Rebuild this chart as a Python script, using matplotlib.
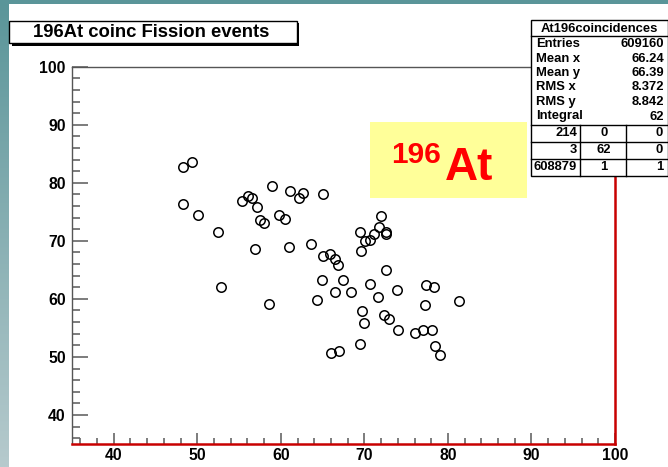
import numpy as np
import matplotlib
matplotlib.use("Agg")
import matplotlib.pyplot as plt
from matplotlib.patches import Rectangle
from matplotlib.lines import Line2D
from matplotlib.ticker import MultipleLocator
from matplotlib.colors import LinearSegmentedColormap

plt.rcParams['font.family'] = ['Liberation Sans', 'DejaVu Sans']

# ---- data ----
x_vals = [48.3, 49.4, 48.3, 50.1, 52.5, 52.8, 55.3, 56.1, 56.6, 57.2, 57.5, 58.0,
          56.9, 58.6, 58.9, 59.8, 60.5, 61.0, 61.1, 62.6, 62.2, 63.6, 65.0, 65.1,
          65.9, 66.5, 66.9, 64.9, 67.4, 66.5, 68.4, 64.3, 66.0, 67.0, 69.5, 69.7,
          69.9, 70.7, 71.6, 69.5, 70.1, 70.7, 71.2, 71.8, 72.0, 72.6, 72.6, 69.6,
          72.6, 73.9, 72.3, 73.0, 74.0, 76.1, 77.0, 78.1, 77.4, 78.3, 77.3, 81.3,
          78.5, 79.1]
y_vals = [82.7, 83.5, 76.3, 74.4, 71.5, 62.1, 76.8, 77.7, 77.3, 75.9, 73.6, 73.0,
          68.6, 59.1, 79.4, 74.4, 73.8, 69.0, 78.5, 78.3, 77.3, 69.5, 78.0, 67.4,
          67.8, 66.9, 65.8, 63.2, 63.2, 61.2, 61.2, 59.8, 50.6, 51.0, 52.3, 57.9,
          55.8, 62.5, 60.3, 71.6, 69.9, 70.1, 71.2, 72.4, 74.2, 71.5, 71.1, 68.3,
          65.0, 61.5, 57.3, 56.5, 54.6, 54.2, 54.7, 54.6, 62.4, 62.1, 58.9, 59.6,
          51.8, 50.3]
x_ticks = [40, 50, 60, 70, 80, 90, 100]
y_ticks = [40, 50, 60, 70, 80, 90, 100]
title_text = "196At coinc Fission events"
stats_name = "At196coincidences"
stats_labels = ["Entries", "Mean x", "Mean y", "RMS x", "RMS y", "Integral"]
stats_values = ["609160", "66.24", "66.39", "8.372", "8.842", "62"]
table_cells = [["214", "0", "0"], ["3", "62", "0"], ["608879", "1", "1"]]

W, H = 668, 467
fig = plt.figure(figsize=(W / 100, H / 100), dpi=100)
fig.patch.set_facecolor('white')


def fx(px):
    return px / W


def fy(py):
    return 1 - py / H


# ---- decorative background bands ----
bg = fig.add_axes([0, 0, fx(9), 1])
grad = np.linspace(0, 1, 256).reshape(-1, 1)
cmap = LinearSegmentedColormap.from_list('band', ['#5a9599', '#b6cacd'])
bg.imshow(grad, aspect='auto', cmap=cmap, extent=[0, 1, 0, 1], origin='upper')
bg.set_axis_off()
fig.add_artist(Rectangle((0, fy(4)), 1, 4 / H, transform=fig.transFigure,
                         facecolor='#5a9599', edgecolor='none', zorder=1))

# ---- main axes ----
x0, x1, yt, yb = 72, 615, 66.7, 444
ax = fig.add_axes([fx(x0), fy(yb), fx(x1) - fx(x0), fy(yt) - fy(yb)])
ax.set_xlim(35, 100)
ax.set_ylim(35, 100)
ax.plot(x_vals, y_vals, linestyle='none', marker='o', markersize=6.8,
        markerfacecolor='none', markeredgecolor='black', markeredgewidth=1.1)

ax.set_xticks(x_ticks)
ax.set_yticks(y_ticks)
ax.xaxis.set_minor_locator(MultipleLocator(2))
ax.yaxis.set_minor_locator(MultipleLocator(2))
ax.tick_params(axis='both', which='both', direction='in', color='#666666', width=1.2,
               labelsize=11.3)
ax.tick_params(axis='x', which='major', length=8, pad=3.0)
ax.tick_params(axis='x', which='minor', length=4)
ax.tick_params(axis='y', which='major', length=11.5, pad=4.5)
ax.tick_params(axis='y', which='minor', length=5.8)
for lab in ax.get_xticklabels() + ax.get_yticklabels():
    lab.set_fontweight('bold')
ax.spines['left'].set_color('#555555')
ax.spines['top'].set_color('#555555')
ax.spines['left'].set_linewidth(1.0)
ax.spines['top'].set_linewidth(1.0)
ax.spines['bottom'].set_color('#c80000')
ax.spines['right'].set_color('#c80000')
ax.spines['bottom'].set_linewidth(1.8)
ax.spines['right'].set_linewidth(1.8)

# ---- title box with shadow ----
tb_x0, tb_x1, tb_y0, tb_y1 = 9, 297, 21, 43
fig.add_artist(Rectangle((fx(tb_x0 + 2.5), fy(tb_y1 + 2.5)), fx(tb_x1) - fx(tb_x0),
                         fy(tb_y0) - fy(tb_y1), transform=fig.transFigure,
                         facecolor='black', edgecolor='none', zorder=5))
fig.add_artist(Rectangle((fx(tb_x0), fy(tb_y1)), fx(tb_x1) - fx(tb_x0),
                         fy(tb_y0) - fy(tb_y1), transform=fig.transFigure,
                         facecolor='white', edgecolor='black', linewidth=1.0, zorder=6))
fig.text(fx(33), fy(32.5), title_text, fontsize=13.3, fontweight='bold',
         ha='left', va='center', zorder=7)

# ---- yellow label box ----
fig.add_artist(Rectangle((fx(370), fy(198)), fx(527) - fx(370), fy(122) - fy(198),
                         transform=fig.transFigure, facecolor='#ffff99',
                         edgecolor='none', zorder=5))
fig.text(fx(391), fy(163), "196", fontsize=21.5, fontweight='bold', color='#ff0000',
         ha='left', va='baseline', zorder=6)
fig.text(fx(445), fy(180), "At", fontsize=33, fontweight='bold', color='#ff0000',
         ha='left', va='baseline', zorder=6)

# ---- statistics box ----
sb_x0, sb_x1, sb_y0, sb_y1 = 531, 667.5, 20, 176
fig.add_artist(Rectangle((fx(sb_x0), fy(sb_y1)), fx(sb_x1) - fx(sb_x0),
                         fy(sb_y0) - fy(sb_y1), transform=fig.transFigure,
                         facecolor='white', edgecolor='black', linewidth=1.0, zorder=5))


def hline(py, xa=sb_x0, xb=sb_x1):
    fig.add_artist(Line2D([fx(xa), fx(xb)], [fy(py), fy(py)], transform=fig.transFigure,
                          color='black', linewidth=1.0, zorder=6))


def vline(px, ya, yb2):
    fig.add_artist(Line2D([fx(px), fx(px)], [fy(ya), fy(yb2)], transform=fig.transFigure,
                          color='black', linewidth=1.0, zorder=6))


hline(36)
fig.text(fx(599), fy(28.5), stats_name, fontsize=9.4, fontweight='bold',
         ha='center', va='center', zorder=7)
row_y = [44, 58.5, 73, 87.5, 102, 116.5]
for lab, val, ry in zip(stats_labels, stats_values, row_y):
    fig.text(fx(536), fy(ry), lab, fontsize=9.4, fontweight='bold',
             ha='left', va='center', zorder=7)
    fig.text(fx(664), fy(ry), val, fontsize=9.4, fontweight='bold',
             ha='right', va='center', zorder=7)
hline(125)
hline(141.5)
hline(158.5)
vline(580, 125, sb_y1)
vline(626, 125, sb_y1)
tab_y = [133, 150, 167]
for row, ry in zip(table_cells, tab_y):
    fig.text(fx(577), fy(ry), row[0], fontsize=9.4, fontweight='bold',
             ha='right', va='center', zorder=7)
    fig.text(fx(604), fy(ry), row[1], fontsize=9.4, fontweight='bold',
             ha='center', va='center', zorder=7)
    fig.text(fx(663), fy(ry), row[2], fontsize=9.4, fontweight='bold',
             ha='right', va='center', zorder=7)

fig.savefig('out.png', dpi=100)
